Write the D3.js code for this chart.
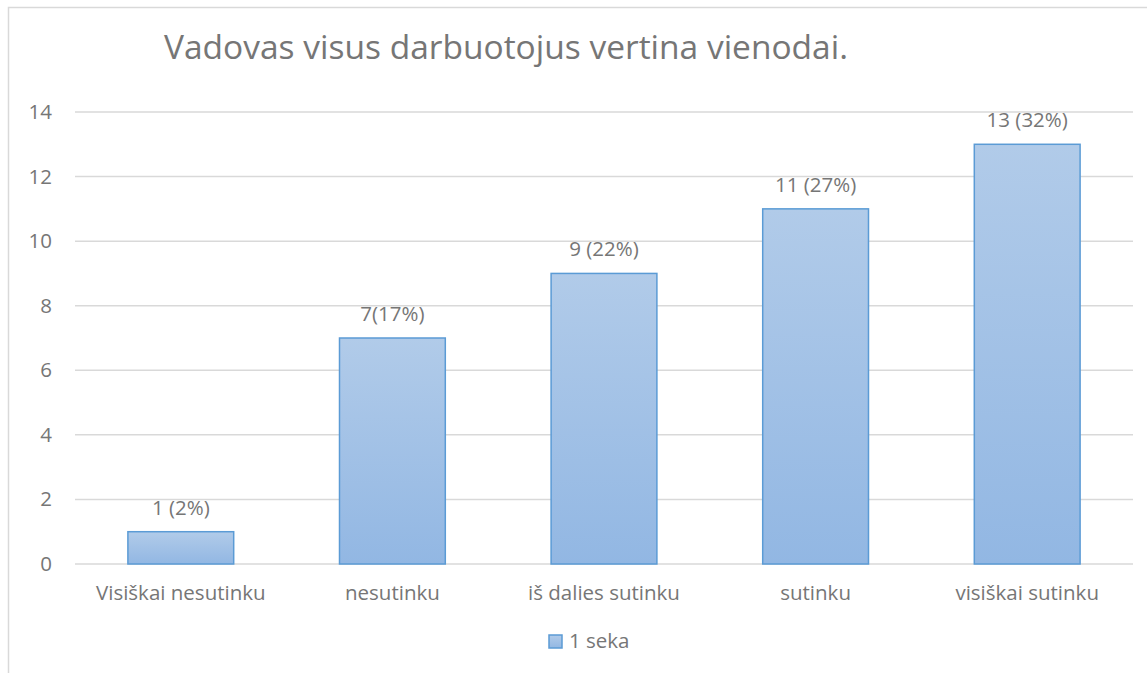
<!DOCTYPE html>
<html>
<head>
<meta charset="utf-8">
<script src="https://cdn.jsdelivr.net/npm/d3@7"></script>
<style>
  body { margin: 0; background: #fff; }
  text { font-family: "Open Sans", sans-serif; fill: #767676; }
</style>
</head>
<body>
<svg id="chart" width="1147" height="673"></svg>
<script>
let categories = ["Visiškai nesutinku", "nesutinku", "iš dalies sutinku", "sutinku", "visiškai sutinku"]
let values = [1, 7, 9, 11, 13]
let labels = ["1 (2%)", "7(17%)", "9 (22%)", "11 (27%)", "13 (32%)"]
let yTicks = [0, 2, 4, 6, 8, 10, 12, 14]
let seriesName = "1 seka"
let title = "Vadovas visus darbuotojus vertina vienodai."

let svg = d3.select("#chart")

// chart border (right/bottom run off the picture)
svg.append("rect")
  .attr("x", 8.5).attr("y", 7.5)
  .attr("width", 1160).attr("height", 700)
  .attr("fill", "none")
  .attr("stroke", "#d9d9d9")
  .attr("stroke-width", 1.5)

let defs = svg.append("defs")
let grad = defs.append("linearGradient")
  .attr("id", "barGrad")
  .attr("x1", 0).attr("y1", 0).attr("x2", 0).attr("y2", 1)
grad.append("stop").attr("offset", "0%").attr("stop-color", "#b1cbe9")
grad.append("stop").attr("offset", "100%").attr("stop-color", "#92b7e3")

let plotLeft = 75, plotRight = 1133, plotTop = 112, plotBottom = 564

let x = d3.scaleBand()
  .domain(categories)
  .range([plotLeft, plotRight])
  .paddingInner(0.5)
  .paddingOuter(0.25)

let y = d3.scaleLinear()
  .domain([0, 14])
  .range([plotBottom, plotTop])

// gridlines
svg.append("g").selectAll("line")
  .data(yTicks)
  .enter().append("line")
  .attr("x1", plotLeft).attr("x2", plotRight)
  .attr("y1", d => y(d)).attr("y2", d => y(d))
  .attr("stroke", "#d9d9d9")
  .attr("stroke-width", 1.5)

// y axis labels
let yAxis = d3.axisLeft(y).tickValues(yTicks).tickSize(0).tickPadding(23)
let gy = svg.append("g")
  .attr("transform", "translate(" + plotLeft + ",0)")
  .call(yAxis)
gy.select(".domain").remove()
gy.selectAll("text")
  .attr("fill", "#767676")
  .style("font-family", "'Open Sans', sans-serif")
  .style("font-size", "20.5px")

// bars
svg.append("g").selectAll("rect")
  .data(values)
  .enter().append("rect")
  .attr("x", (d, i) => x(categories[i]))
  .attr("y", d => y(d))
  .attr("width", x.bandwidth())
  .attr("height", d => y(0) - y(d))
  .attr("fill", "url(#barGrad)")
  .attr("stroke", "#5b9bd5")
  .attr("stroke-width", 1.5)

// data labels
svg.append("g").selectAll("text")
  .data(values)
  .enter().append("text")
  .attr("x", (d, i) => x(categories[i]) + x.bandwidth() / 2)
  .attr("y", d => y(d) - 17)
  .attr("text-anchor", "middle")
  .style("font-size", "20.5px")
  .text((d, i) => labels[i])

// x axis labels
let xAxis = d3.axisBottom(x).tickSize(0).tickPadding(21)
let gx = svg.append("g")
  .attr("transform", "translate(0," + plotBottom + ")")
  .call(xAxis)
gx.select(".domain").remove()
gx.selectAll("text")
  .attr("fill", "#767676")
  .style("font-family", "'Open Sans', sans-serif")
  .style("font-size", "20.5px")

// title
svg.append("text")
  .attr("x", 506).attr("y", 59)
  .attr("text-anchor", "middle")
  .style("font-size", "33.5px")
  .text(title)

// legend
let legend = svg.append("g").attr("transform", "translate(549,635)")
legend.append("rect")
  .attr("width", 13).attr("height", 13)
  .attr("fill", "url(#barGrad)")
  .attr("stroke", "#5b9bd5")
  .attr("stroke-width", 1.5)
legend.append("text")
  .attr("x", 20).attr("y", 13)
  .style("font-size", "20.5px")
  .text(seriesName)
</script>
</body>
</html>
